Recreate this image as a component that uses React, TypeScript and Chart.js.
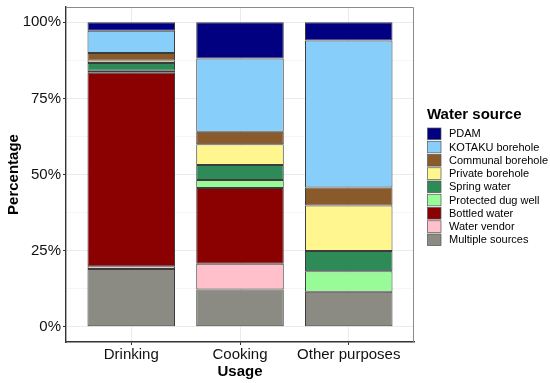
import React, { useEffect, useRef } from "react";
import { Chart, registerables } from "chart.js";

Chart.register(...registerables);

const categories = ["Drinking", "Cooking", "Other purposes"];
const sourceNames = [
  "Multiple sources",
  "Water vendor",
  "Bottled water",
  "Protected dug well",
  "Spring water",
  "Private borehole",
  "Communal borehole",
  "KOTAKU borehole",
  "PDAM",
];
const multipleSources = [19.0, 12.2, 11.5];
const waterVendor = [0.9, 8.5, 0];
const bottledWater = [63.5, 24.9, 0];
const protectedDugWell = [0.7, 2.6, 6.7];
const springWater = [2.5, 4.9, 6.7];
const privateBorehole = [0.8, 6.8, 14.9];
const communalBorehole = [2.5, 4.1, 5.9];
const kotakuBorehole = [7.3, 24.1, 48.3];
const pdam = [2.8, 11.9, 6.0];
const sourceColors = [
  "#8B8B83",
  "#FFC0CB",
  "#8B0000",
  "#98FB98",
  "#2E8B57",
  "#FFF68F",
  "#8B5A2B",
  "#87CEFA",
  "#000080",
];
const yTickValues = [0, 12.5, 25, 37.5, 50, 62.5, 75, 87.5, 100];
const legendTitle = "Water source";

const FONT = "'Liberation Sans', Arial, sans-serif";

const panelAndLegend = {
  id: "panelAndLegend",
  afterDatasetsDraw(chart: any) {
    const { ctx, chartArea } = chart;
    ctx.save();
    ctx.strokeStyle = "#8a8a8a";
    ctx.lineWidth = 1;
    ctx.beginPath();
    ctx.moveTo(chartArea.left, chartArea.top + 0.5);
    ctx.lineTo(chartArea.right - 0.5, chartArea.top + 0.5);
    ctx.lineTo(chartArea.right - 0.5, chartArea.bottom);
    ctx.stroke();
    ctx.restore();
  },
  afterDraw(chart: any) {
    const { ctx } = chart;
    ctx.save();
    const x0 = 427.5;
    ctx.fillStyle = "#000";
    ctx.font = `bold 15px ${FONT}`;
    ctx.textAlign = "left";
    ctx.textBaseline = "alphabetic";
    ctx.fillText(legendTitle, x0 - 0.5, 118.5);
    const rowStep = 13.25;
    const firstCenter = 133.8;
    ctx.font = `11px ${FONT}`;
    ctx.textBaseline = "middle";
    const ds = chart.data.datasets;
    for (let r = 0; r < ds.length; r++) {
      const d = ds[ds.length - 1 - r];
      const cy = firstCenter + r * rowStep;
      ctx.fillStyle = d.backgroundColor;
      ctx.fillRect(x0, cy - 5.8, 13.5, 11.6);
      ctx.strokeStyle = "#555";
      ctx.lineWidth = 0.7;
      ctx.strokeRect(x0, cy - 5.8, 13.5, 11.6);
      ctx.fillStyle = "#000";
      ctx.fillText(d.label, 449, cy + 0.5);
    }
    ctx.restore();
  },
};

export default function App() {
  const canvasRef = useRef<HTMLCanvasElement | null>(null);

  useEffect(() => {
    if (!canvasRef.current) return;
    const series = [
      multipleSources,
      waterVendor,
      bottledWater,
      protectedDugWell,
      springWater,
      privateBorehole,
      communalBorehole,
      kotakuBorehole,
      pdam,
    ];
    const datasets = series.map((vals, si) => ({
      label: sourceNames[si],
      data: vals.map((v, i) => ({ x: i, y: v })),
      backgroundColor: sourceColors[si],
      borderColor: "#3c3c3c",
      borderWidth: 1,
      borderSkipped: false as const,
      categoryPercentage: 1,
      barPercentage: 0.805,
    }));

    const chart = new Chart(canvasRef.current, {
      type: "bar",
      data: { datasets },
      plugins: [panelAndLegend],
      options: {
        animation: false,
        responsive: true,
        maintainAspectRatio: false,
        layout: { padding: { top: 7, right: 136, left: 0, bottom: 0 } },
        plugins: {
          legend: { display: false },
          tooltip: { enabled: false },
        },
        scales: {
          x: {
            type: "linear",
            stacked: true,
            offset: false,
            min: -0.6,
            max: 2.6,
            afterBuildTicks: (scale: any) => {
              scale.ticks = categories.map((_, i) => ({ value: i }));
            },
            afterFit: (scale: any) => {
              scale.height = 41;
              scale.paddingLeft = 0;
              scale.paddingRight = 0;
            },
            ticks: {
              callback: (v: any) => categories[Math.round(Number(v))] ?? "",
              font: { family: FONT, size: 15 },
              color: "#111",
              padding: 1,
              maxRotation: 0,
              autoSkip: false,
            },
            grid: {
              offset: false,
              color: "#ebebeb",
              lineWidth: 1,
              tickLength: 3,
              tickColor: "#333",
            },
            border: { display: true, color: "#333", width: 1.4 },
            title: {
              display: true,
              text: "Usage",
              font: { family: FONT, size: 15, weight: "bold" },
              color: "#000",
              padding: { top: 0, bottom: 2 },
            },
          },
          y: {
            stacked: true,
            min: -5,
            max: 105,
            afterBuildTicks: (scale: any) => {
              scale.ticks = yTickValues.map((v) => ({ value: v }));
            },
            afterFit: (scale: any) => {
              scale.width = 66;
              scale.paddingTop = 0;
              scale.paddingBottom = 0;
            },
            ticks: {
              callback: (v: any) => (Number(v) % 25 === 0 ? `${v}%` : ""),
              font: { family: FONT, size: 15 },
              color: "#111",
              padding: 2,
              autoSkip: false,
            },
            grid: {
              color: (c: any) => (c.tick && c.tick.value % 25 === 0 ? "#ebebeb" : "#f5f5f5"),
              lineWidth: 1,
              tickLength: 3,
              tickColor: (c: any) => (c.tick && c.tick.value % 25 === 0 ? "#333" : "rgba(0,0,0,0)"),
            },
            border: { display: true, color: "#333", width: 1.4 },
            title: {
              display: true,
              text: "Percentage",
              font: { family: FONT, size: 15, weight: "bold" },
              color: "#000",
              padding: { top: 5, bottom: 0 },
            },
          },
        },
      },
    });
    return () => chart.destroy();
  }, []);

  return (
    <div style={{ position: "fixed", left: 0, top: 0, width: 550, height: 383, background: "#fff" }}>
      <canvas ref={canvasRef} />
    </div>
  );
}
